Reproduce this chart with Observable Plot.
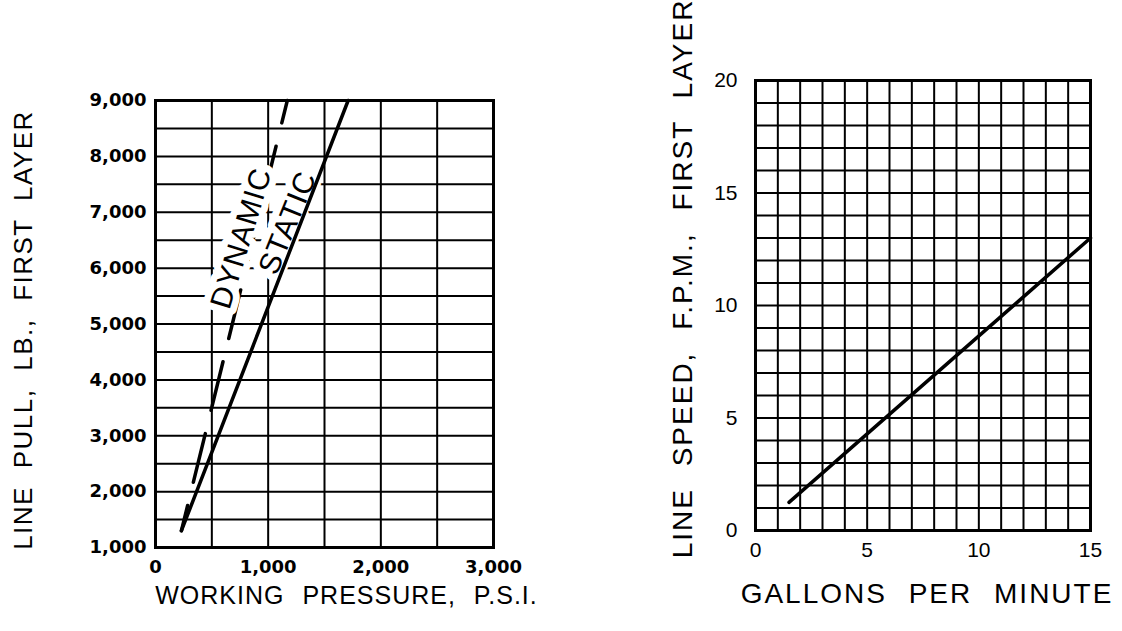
<!DOCTYPE html>
<html><head><meta charset="utf-8">
<script src="https://cdn.jsdelivr.net/npm/d3@7"></script>
<script src="https://cdn.jsdelivr.net/npm/@observablehq/plot@0.6"></script>
<style>
html,body{margin:0;padding:0;background:#fff;}
#wrap{position:relative;width:1122px;height:631px;overflow:hidden;background:#fff;}
#wrap svg{position:absolute;top:0;}
</style></head><body><div id="wrap"></div>
<script>
// ---- Left chart: line pull vs working pressure ----
const pressureTicks = [0, 1000, 2000, 3000];
const pullTicks = [1000, 2000, 3000, 4000, 5000, 6000, 7000, 8000, 9000];
const staticPressure = [230, 1710];
const staticPull = [1300, 9000];
const dynamicPressure = [230, 1170];
const dynamicPull = [1300, 9000];
const leftXTitle = "WORKING PRESSURE, P.S.I.";
const leftYTitle = "LINE PULL, LB., FIRST LAYER";
const seriesLabels = ["DYNAMIC", "STATIC"];

// ---- Right chart: line speed vs gallons per minute ----
const gpmTicks = [0, 5, 10, 15];
const speedTicks = [0, 5, 10, 15, 20];
const flowGpm = [1.5, 15];
const lineSpeed = [1.25, 13];
const rightXTitle = "GALLONS PER MINUTE";
const rightYTitle = "LINE SPEED, F.P.M., FIRST LAYER";

const zip = (xs, ys) => xs.map((x, i) => ({x, y: ys[i]}));
const along = (xs, ys, t) => ({x: xs[0] + t * (xs[1] - xs[0]), y: ys[0] + t * (ys[1] - ys[0])});

const staticData = zip(staticPressure, staticPull);
const dynamicData = zip(dynamicPressure, dynamicPull);
const speedData = zip(flowGpm, lineSpeed);

const font = "Liberation Sans, Arial, sans-serif";
const base = {width: 561, height: 631, style: {fontFamily: font, background: "white", color: "black", overflow: "visible"}};

const left = Plot.plot({
  ...base,
  marginLeft: 155, marginRight: 68, marginTop: 100, marginBottom: 84,
  x: {domain: [0, 3000]},
  y: {domain: [1000, 9000]},
  marks: [
    Plot.ruleX(d3.range(0, 3001, 500), {stroke: "black", strokeWidth: 2}),
    Plot.ruleY(d3.range(1000, 9001, 500), {stroke: "black", strokeWidth: 2}),
    Plot.frame({stroke: "black", strokeWidth: 3}),
    Plot.axisX(pressureTicks, {anchor: "bottom", tickSize: 0, tickPadding: 13, tickFormat: d3.format(","), fontSize: 18, fontWeight: "bold", fontFamily: "DejaVu Sans", label: null}),
    Plot.axisY(pullTicks, {anchor: "left", tickSize: 0, tickPadding: 9, tickFormat: d3.format(","), fontSize: 18, fontWeight: "bold", fontFamily: "DejaVu Sans", label: null}),
    Plot.line(dynamicData, {x: "x", y: "y", stroke: "black", strokeWidth: 3.5, strokeDasharray: "50,24", strokeDashoffset: 24}),
    Plot.text([along(dynamicPressure, dynamicPull, 0.68)], {x: "x", y: "y", text: () => seriesLabels[0], rotate: -73, dx: -12, fontSize: 30, stroke: "white", strokeWidth: 14, fill: "black"}),
    Plot.text([along(staticPressure, staticPull, 0.716)], {x: "x", y: "y", text: () => seriesLabels[1], rotate: -68, dx: -13, fontSize: 30, stroke: "white", strokeWidth: 14, fill: "black"}),
    Plot.line(staticData, {x: "x", y: "y", stroke: "black", strokeWidth: 3.5}),
    Plot.text([leftXTitle], {frameAnchor: "bottom", textAnchor: "middle", dy: 56, dx: 22, fontSize: 25}),
    Plot.text([leftYTitle], {frameAnchor: "left", textAnchor: "middle", rotate: -90, dx: -132, dy: 6, fontSize: 26})
  ]
});

const right = Plot.plot({
  ...base,
  marginLeft: 194, marginRight: 32, marginTop: 80, marginBottom: 101,
  x: {domain: [0, 15]},
  y: {domain: [0, 20]},
  marks: [
    Plot.ruleX(d3.range(0, 16, 1), {stroke: "black", strokeWidth: 2}),
    Plot.ruleY(d3.range(0, 21, 1), {stroke: "black", strokeWidth: 2}),
    Plot.frame({stroke: "black", strokeWidth: 3}),
    Plot.axisX(gpmTicks, {anchor: "bottom", tickSize: 0, tickPadding: 12, fontSize: 21, label: null}),
    Plot.axisY(speedTicks, {anchor: "left", tickSize: 0, tickPadding: 18, fontSize: 21, label: null}),
    Plot.line(speedData, {x: "x", y: "y", stroke: "black", strokeWidth: 3.5}),
    Plot.text([rightXTitle], {frameAnchor: "bottom", textAnchor: "middle", dy: 72, dx: 4, fontSize: 28}),
    Plot.text([rightYTitle], {frameAnchor: "left", textAnchor: "middle", rotate: -90, dx: -72, dy: -27, fontSize: 28})
  ]
});

function spacing(svg, text, ls, ws) {
  d3.select(svg).selectAll("text")
    .filter(function() { return this.textContent === text; })
    .style("letter-spacing", ls + "px")
    .style("word-spacing", ws + "px");
}
spacing(left, leftXTitle, 1, 10);
spacing(left, leftYTitle, 1.5, 9);
spacing(left, seriesLabels[0], 1, 0);
spacing(left, seriesLabels[1], 1, 0);
spacing(right, rightXTitle, 2, 12);
spacing(right, rightYTitle, 2, 12);

left.style.left = "0px";
right.style.left = "561px";
document.getElementById("wrap").append(left, right);
</script></body></html>
